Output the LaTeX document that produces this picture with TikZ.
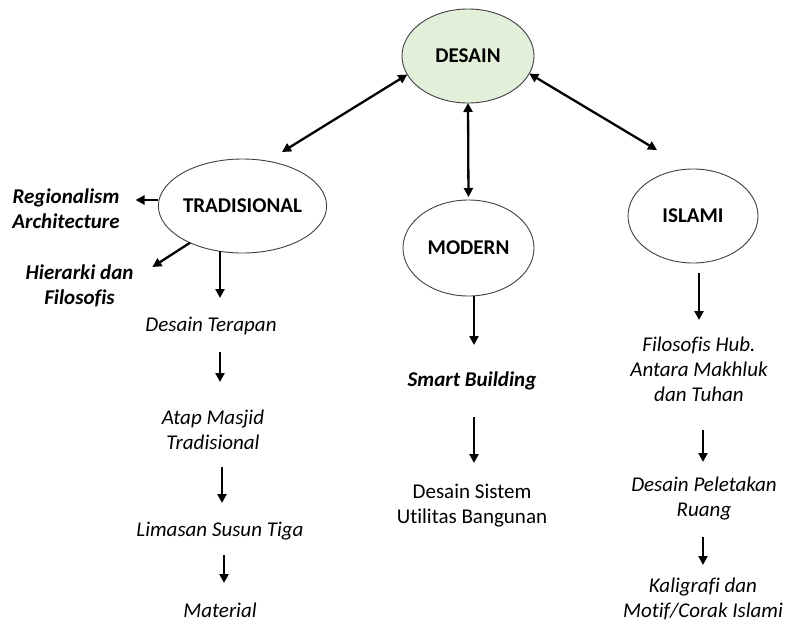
\documentclass[tikz,border=0pt]{standalone}
\usepackage{fontspec}
\setmainfont{Carlito}[Ligatures=NoCommon]
\usetikzlibrary{arrows.meta,shapes.geometric}
\definecolor{desainfill}{HTML}{E2EFD9}
\definecolor{rim}{HTML}{404040}
\begin{document}
\begin{tikzpicture}[x=1pt,y=-1pt,
  ell/.style={ellipse,draw=rim,line width=0.9pt,fill=white,inner sep=0pt,outer sep=0pt,
    font=\fontsize{21pt}{25pt}\selectfont\bfseries},
  txt/.style={align=center,inner sep=0pt,outer sep=0pt,anchor=base,
    font=\fontsize{21pt}{25pt}\selectfont\itshape},
  bold/.style={txt,font=\fontsize{21pt}{25pt}\selectfont\bfseries\itshape},
  plain/.style={txt,font=\fontsize{21pt}{25pt}\selectfont},
  arr/.style={line width=2.3pt,-{Triangle[length=9pt,width=9pt]}},
  darr/.style={line width=2.3pt,{Triangle[length=9pt,width=9pt]}-{Triangle[length=9pt,width=9pt]}}]
\useasboundingbox (0,0) rectangle (789,622);

% main categories
\node[ell,fill=desainfill,minimum width=132pt,minimum height=94pt] (desain) at (468,56) {DESAIN};
\node[ell,minimum width=149pt,minimum height=94pt] (trad) at (242.5,206) {TRADISIONAL};
\node[ell,minimum width=131pt,minimum height=96pt] (modern) at (468.5,248) {MODERN};
\node[ell,minimum width=130pt,minimum height=94pt] (islami) at (693,216) {ISLAMI};

% traditional branch (base = baseline of the last line)
\node[bold] (regional) at (66,228) {Regionalism\\Architecture};
\node[bold] (hierarki) at (79.5,304) {Hierarki dan\\Filosofis};
\node[txt] (terapan) at (211,331) {Desain Terapan};
\node[txt] (atap) at (213,449) {Atap Masjid\\Tradisional};
\node[txt] (limasan) at (220,536) {Limasan Susun Tiga};
\node[txt] (material) at (220,617) {Material};

% modern branch
\node[bold] (smart) at (472,386) {Smart Building};
\node[plain] (sistem) at (472,523) {Desain Sistem\\Utilitas Bangunan};

% islamic branch
\node[txt] (filhub) at (699,401) {Filosofis Hub.\\Antara Makhluk\\dan Tuhan};
\node[txt] (peletakan) at (704,516) {Desain Peletakan\\Ruang};
\node[txt] (kaligrafi) at (703,617) {Kaligrafi dan\\Motif/Corak Islami};

% links between DESAIN and the three categories
\draw[darr] (desain.197) -- ([xshift=39.5pt,yshift=7pt]trad.north);
\draw[darr] (desain.-16) -- ([xshift=-36pt,yshift=19pt]islami.north);
\draw[darr,shorten >=3pt] (desain.south) -- (modern.north);

% side branches of TRADISIONAL
\coordinate (tw) at ([yshift=6pt]trad.west);
\draw[arr,shorten >=16pt] (tw) -- (tw -| regional.east);
\draw[arr] (trad.215) -- ([xshift=19pt,yshift=37pt]hierarki.base east);

% vertical chains
\coordinate (c1) at ([xshift=-22.5pt,yshift=2pt]trad.south);
\draw[arr,shorten >=33pt] (c1) -- (c1 |- terapan.base);
\coordinate (c2) at ([xshift=9pt,yshift=-21pt]terapan.base);
\draw[arr,shorten >=67pt] (c2) -- (c2 |- atap.base);
\coordinate (c3) at ([xshift=9pt,yshift=-18pt]atap.base);
\draw[arr,shorten >=33pt] (c3) -- (c3 |- limasan.base);
\coordinate (c4) at ([xshift=4pt,yshift=-19pt]limasan.base);
\draw[arr,shorten >=34pt] (c4) -- (c4 |- material.base);

\coordinate (m1) at ([xshift=5.5pt]modern.south);
\draw[arr,shorten >=41pt] (m1) -- (m1 |- smart.base);
\coordinate (m2) at ([xshift=2pt,yshift=-31pt]smart.base);
\draw[arr,shorten >=60pt] (m2) -- (m2 |- sistem.base);

\coordinate (i1) at ([xshift=6pt,yshift=-10pt]islami.south);
\draw[arr,shorten >=81pt] (i1) -- (i1 |- filhub.base);
\coordinate (i2) at ([xshift=4pt,yshift=-29pt]filhub.base);
\draw[arr,shorten >=54pt] (i2) -- (i2 |- peletakan.base);
\coordinate (i3) at ([xshift=-1pt,yshift=-21pt]peletakan.base);
\draw[arr,shorten >=52pt] (i3) -- (i3 |- kaligrafi.base);
\end{tikzpicture}
\end{document}
